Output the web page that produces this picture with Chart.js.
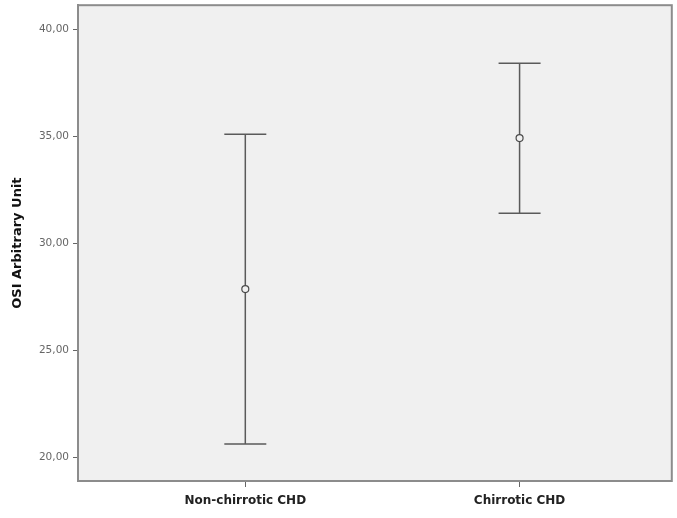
<!DOCTYPE html>
<html>
<head>
<meta charset="utf-8">
<script src="https://cdn.jsdelivr.net/npm/chart.js@4"></script>
<style>
  html, body { margin: 0; padding: 0; background: #fff; }
  #wrap { width: 677px; height: 518px; }
</style>
</head>
<body>
<div id="wrap"><canvas id="chart1"></canvas></div>
<script>
// group labels and mean with 95% CI
var groups = ['Non-chirrotic CHD', 'Chirrotic CHD']
var means = [27.85, 34.91]
var lowerCI = [20.61, 31.40]
var upperCI = [35.09, 38.41]
var yTicks = [20, 25, 30, 35, 40]

var points = []
for (var i = 0, size = groups.length; i < size; ++i) {
    points.push({ x: i, y: means[i] })
}

// plot frame and grey background
var framePlugin = {
    id: 'frame',
    beforeDraw: function (chart) {
        var a = chart.chartArea
        var c = chart.ctx
        c.save()
        c.fillStyle = '#f0f0f0'
        c.fillRect(a.left, a.top, a.right - a.left, a.bottom - a.top)
        c.strokeStyle = '#8c8c8c'
        c.lineWidth = 2
        c.strokeRect(a.left, a.top, a.right - a.left, a.bottom - a.top)
        c.restore()
    }
}

// whiskers drawn from the CI arrays through the chart scales
var errorBarPlugin = {
    id: 'errorBars',
    beforeDatasetsDraw: function (chart) {
        var xs = chart.scales.x
        var ys = chart.scales.y
        var c = chart.ctx
        c.save()
        c.strokeStyle = '#5a5a5a'
        c.lineWidth = 1.5
        for (var i = 0, size = groups.length; i < size; ++i) {
            var px = xs.getPixelForValue(i)
            var top = ys.getPixelForValue(upperCI[i])
            var bot = ys.getPixelForValue(lowerCI[i])
            c.beginPath()
            c.moveTo(px, top)
            c.lineTo(px, bot)
            c.moveTo(px - 21, top)
            c.lineTo(px + 21, top)
            c.moveTo(px - 21, bot)
            c.lineTo(px + 21, bot)
            c.stroke()
        }
        c.restore()
    }
}

var ctx = document.getElementById('chart1')
var chart1 = new Chart(
    ctx, {
    type: 'scatter',
    data: {
        datasets: [
            {
                label: 'Mean',
                data: points,
                pointStyle: 'circle',
                pointRadius: 3.5,
                pointBorderWidth: 1.2,
                pointBorderColor: '#4a4a4a',
                pointBackgroundColor: '#f0f0f0'
            }
        ]
    },
    options: {
        responsive: true,
        maintainAspectRatio: false,
        animation: false,
        layout: { padding: { top: 5, right: 4, left: 0, bottom: 0 } },
        plugins: {
            legend: { display: false },
            tooltip: { enabled: false }
        },
        scales: {
            x: {
                type: 'linear',
                min: -0.61,
                max: 1.555,
                afterBuildTicks: function (scale) {
                    scale.ticks = groups.map(function (g, i) { return { value: i } })
                },
                afterFit: function (scale) {
                    scale.height = 37
                    scale.paddingLeft = 0
                    scale.paddingRight = 0
                },
                ticks: {
                    autoSkip: false,
                    maxRotation: 0,
                    padding: 7,
                    color: '#222',
                    font: { family: '"DejaVu Sans"', size: 12, weight: 'bold' },
                    callback: function (v) { return groups[v] }
                },
                grid: { drawOnChartArea: false, drawTicks: true, tickLength: 6, color: '#666', lineWidth: 1 },
                border: { display: true, color: '#8c8c8c', width: 2 }
            },
            y: {
                min: 18.88,
                max: 41.12,
                afterBuildTicks: function (scale) {
                    scale.ticks = yTicks.map(function (v) { return { value: v } })
                },
                afterFit: function (scale) {
                    scale.width = 78
                    scale.paddingTop = 0
                    scale.paddingBottom = 0
                },
                ticks: {
                    padding: 4,
                    color: '#666',
                    font: { family: '"DejaVu Sans"', size: 10.5 },
                    callback: function (v) { return v.toFixed(2).replace('.', ',') }
                },
                grid: { drawOnChartArea: false, drawTicks: true, tickLength: 5, color: '#666', lineWidth: 1 },
                border: { display: true, color: '#8c8c8c', width: 2 },
                title: {
                    display: true,
                    text: 'OSI Arbitrary Unit',
                    color: '#111',
                    padding: { top: 10, bottom: 0 },
                    font: { family: '"DejaVu Sans"', size: 13, weight: 'bold' }
                }
            }
        }
    },
    plugins: [framePlugin, errorBarPlugin]
}
)
</script>
</body>
</html>
